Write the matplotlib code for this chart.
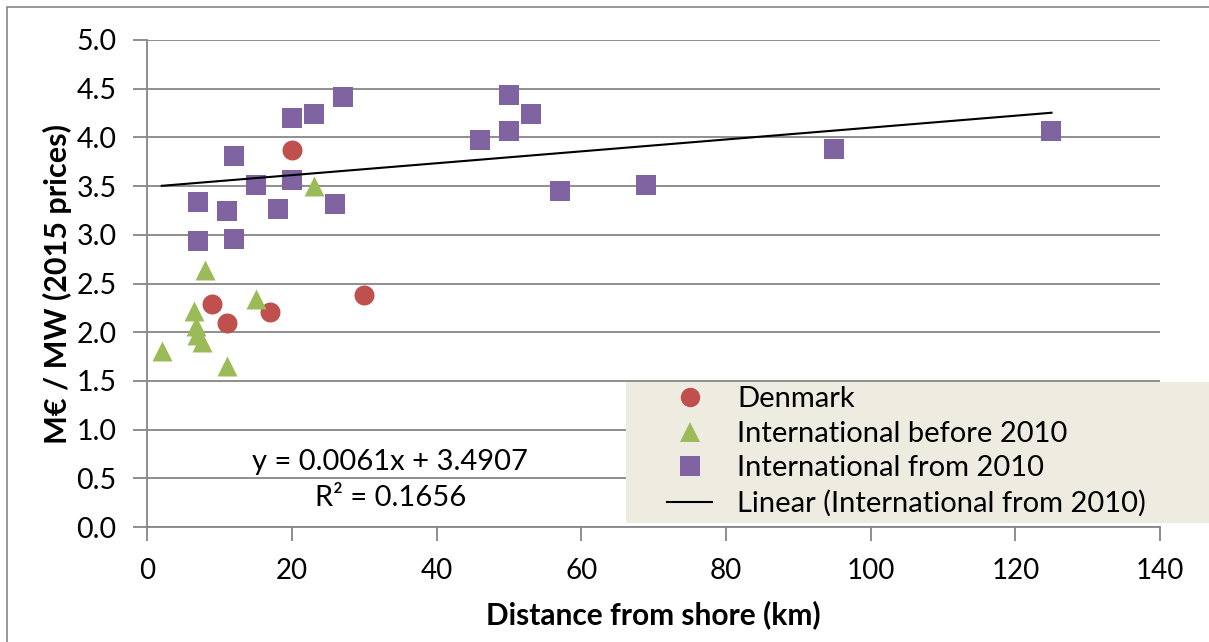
import numpy as np
import matplotlib.pyplot as plt
from matplotlib.patches import Rectangle
from matplotlib.lines import Line2D

# data
denmark_x = [20, 9, 11, 17, 30]
denmark_y = [3.87, 2.29, 2.09, 2.21, 2.38]

before_x = [2, 6.5, 6.8, 6.9, 7.5, 8, 11, 15, 23]
before_y = [1.81, 2.22, 2.06, 1.97, 1.90, 2.64, 1.65, 2.34, 3.50]

from_x = [7, 7, 11, 12, 12, 15, 18, 20, 20, 23, 26, 27, 46, 50, 50, 53, 57, 69, 95, 125]
from_y = [3.34, 2.94, 3.24, 2.96, 3.81, 3.51, 3.27, 3.56, 4.20, 4.24, 3.32, 4.41,
          3.97, 4.07, 4.44, 4.24, 3.45, 3.51, 3.88, 4.07]

slope = 0.0061
intercept = 3.4907
r2 = 0.1656
trend_x = np.array([2, 125])

W, H = 1209, 642
fig = plt.figure(figsize=(W / 100, H / 100), dpi=100)
ax = fig.add_axes([147.3 / W, 1 - 527 / H, (1160 - 147.3) / W, (527 - 40) / H])

grey = '#868686'
font = 'Lato'

ax.set_axisbelow(True)
ax.yaxis.grid(True, color=grey, lw=1.3)
ax.scatter(denmark_x, denmark_y, marker='o', s=207, color='#C0504D', lw=0, zorder=3)
ax.scatter(before_x, before_y, marker='^', s=207, color='#9BBB59', lw=0, zorder=3)
ax.scatter(from_x, from_y, marker='s', s=207, color='#8064A2', lw=0, zorder=3)
ax.plot(trend_x, slope * trend_x + intercept, color='black', lw=1.5, zorder=4)

ax.set_xlim(0, 140)
ax.set_ylim(0, 5)
ax.set_xticks(np.arange(0, 141, 20))
ax.set_yticks(np.arange(0, 5.01, 0.5))
ax.set_yticklabels(['%.1f' % v for v in np.arange(0, 5.01, 0.5)], fontsize=20.5, family=font)
ax.set_xticklabels([str(v) for v in range(0, 141, 20)], fontsize=20, family=font)
ax.tick_params(axis='both', color=grey, length=10, width=1.3, direction='out')
ax.tick_params(axis='y', pad=12)
ax.tick_params(axis='x', pad=12)
for s in ['top', 'right']:
    ax.spines[s].set_visible(False)
for s in ['left', 'bottom']:
    ax.spines[s].set_color(grey)
    ax.spines[s].set_linewidth(1.3)

ax.set_xlabel('Distance from shore (km)', fontsize=21.5, fontweight='bold', family=font, labelpad=12)
ax.set_ylabel('M€ / MW (2015 prices)', fontsize=22, fontweight='bold', family=font, labelpad=3)

ax.text(33.6, 0.67, 'y = %.4fx + %.4f' % (slope, intercept), ha='center', va='center',
        fontsize=21, family=font)
ax.text(33.6, 0.30, 'R² = %.4f' % r2, ha='center', va='center', fontsize=21, family=font)

# outer chart frame
fig.add_artist(Rectangle((7 / W, -0.05), 1.05, 1 - 7 / H + 0.05, transform=fig.transFigure,
                         fill=False, edgecolor=grey, lw=1.2, zorder=0))

# legend box
fig.add_artist(Rectangle((626 / W, 1 - 523 / H), (W - 626) / W, (523 - 382) / H,
                         transform=fig.transFigure, facecolor='#EEECE1', edgecolor='none', zorder=5))
handles = [
    Line2D([], [], ls='none', marker='o', ms=14, color='#C0504D', mew=0),
    Line2D([], [], ls='none', marker='^', ms=14, color='#9BBB59', mew=0),
    Line2D([], [], ls='none', marker='s', ms=14, color='#8064A2', mew=0),
    Line2D([], [], color='black', lw=1.5),
]
labels = ['Denmark', 'International before 2010', 'International from 2010',
          'Linear (International from 2010)']
leg = fig.legend(handles, labels, loc='upper left', bbox_to_anchor=(667 / W, 1 - 386 / H),
                 frameon=False, prop={'family': font, 'size': 21}, handlelength=1.55,
                 handletextpad=0.85, labelspacing=0.3, borderpad=0, borderaxespad=0)
leg.set_zorder(6)

fig.savefig('out.png', dpi=100)
